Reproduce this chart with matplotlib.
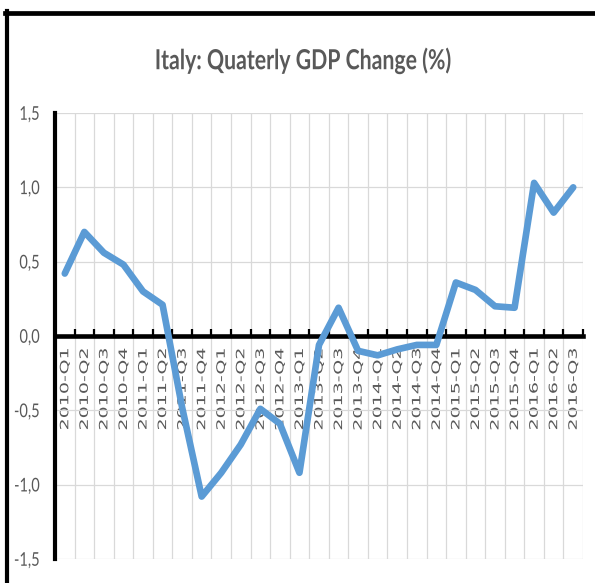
import matplotlib
matplotlib.use("Agg")
import matplotlib.pyplot as plt
import matplotlib.patheffects as pe
from matplotlib.lines import Line2D
from matplotlib.transforms import Affine2D
from matplotlib.ticker import FixedLocator, FuncFormatter

# Quarterly GDP change for Italy (%)
quarters = [
    "2010-Q1", "2010-Q2", "2010-Q3", "2010-Q4",
    "2011-Q1", "2011-Q2", "2011-Q3", "2011-Q4",
    "2012-Q1", "2012-Q2", "2012-Q3", "2012-Q4",
    "2013-Q1", "2013-Q2", "2013-Q3", "2013-Q4",
    "2014-Q1", "2014-Q2", "2014-Q3", "2014-Q4",
    "2015-Q1", "2015-Q2", "2015-Q3", "2015-Q4",
    "2016-Q1", "2016-Q2", "2016-Q3",
]
gdp_change = [
    0.42, 0.70, 0.56, 0.48,
    0.30, 0.21, -0.48, -1.08,
    -0.92, -0.73, -0.49, -0.59,
    -0.92, -0.06, 0.19, -0.10,
    -0.13, -0.09, -0.06, -0.06,
    0.36, 0.31, 0.20, 0.19,
    1.03, 0.83, 1.00,
]
y_ticks = [-1.5, -1.0, -0.5, 0.0, 0.5, 1.0, 1.5]

W, H = 595, 583
TEXT = "#595959"
GRID = "#D9D9D9"
BLUE = "#5B9BD5"


class VStretch(pe.AbstractPathEffect):
    """Stretch drawn text vertically (the reference image is squashed/stretched)."""

    def __init__(self, sy, anchor="center"):
        super().__init__()
        self.sy = sy
        self.anchor = anchor

    def draw_path(self, renderer, gc, tpath, affine, rgbFace=None):
        ext = tpath.get_extents(affine)
        y0 = ext.y1 if self.anchor == "top" else (ext.y0 + ext.y1) / 2
        t = affine + Affine2D().translate(0, -y0).scale(1, self.sy).translate(0, y0)
        renderer.draw_path(gc, tpath, t, rgbFace)


fig = plt.figure(figsize=(W / 100, H / 100), dpi=100)
ax = fig.add_axes([55 / W, 1 - 559 / H, (583 - 55) / W, (559 - 113) / H])

x = list(range(len(quarters)))
ax.plot(x, gdp_change, color=BLUE, lw=4.8, solid_joinstyle="round",
        solid_capstyle="round", zorder=3)

ax.set_xlim(-0.5, len(quarters) - 0.5)
ax.set_ylim(-1.5, 1.5)

# boundaries between quarters carry the tick marks and vertical grid
ax.xaxis.set_major_locator(FixedLocator([i - 0.5 for i in range(len(quarters) + 1)]))
ax.xaxis.set_minor_locator(FixedLocator(x))
ax.xaxis.set_major_formatter(FuncFormatter(lambda v, p: ""))
ax.xaxis.set_minor_formatter(FuncFormatter(lambda v, p: quarters[int(round(v))]))
ax.tick_params(axis="x", which="major", direction="in", length=4.8, width=1.6,
               color="black", pad=0)
ax.tick_params(axis="x", which="minor", length=0, pad=9, labelsize=8.3,
               labelcolor=TEXT, labelrotation=90)

ax.set_yticks(y_ticks)
ax.yaxis.set_major_formatter(FuncFormatter(lambda v, p: f"{v:.1f}".replace(".", ",")))
ax.tick_params(axis="y", length=0, pad=11, labelsize=10.5, labelcolor=TEXT)

ax.grid(True, which="major", color=GRID, lw=0.9, zorder=0)
ax.set_axisbelow(True)

for s in ["top", "right"]:
    ax.spines[s].set_visible(False)
ax.spines["bottom"].set_position(("data", 0))
ax.spines["bottom"].set_linewidth(3.3)
ax.spines["left"].set_linewidth(3.0)
for s in ["bottom", "left"]:
    ax.spines[s].set_color("black")

for lab in ax.get_xticklabels(minor=True):
    lab.set_fontfamily("DejaVu Sans")
    lab.set_path_effects([VStretch(1.65, "top")])
for lab in ax.get_yticklabels():
    lab.set_fontfamily("Lato")
    lab.set_path_effects([VStretch(1.3)])

fig.text(303 / W, 1 - 61 / H, "Italy: Quaterly GDP Change (%)", ha="center",
         va="center", fontsize=15.3, fontweight="bold", family="Lato", color=TEXT,
         path_effects=[VStretch(1.3)])

# thick frame around the chart (cut off at right and bottom in the reference)
fig.add_artist(Line2D([5 / W, 1], [1 - 12.5 / H] * 2, transform=fig.transFigure,
                      color="black", lw=3.4))
fig.add_artist(Line2D([7 / W] * 2, [0, 1 - 10.5 / H], transform=fig.transFigure,
                      color="black", lw=3.0))

fig.savefig("out.png", dpi=100)
